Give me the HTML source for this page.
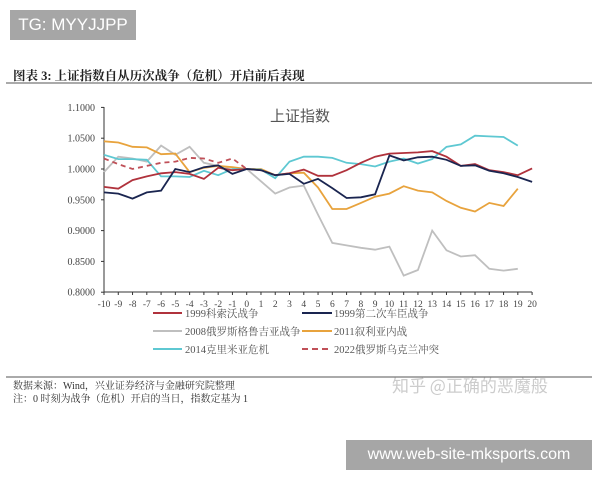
<!DOCTYPE html>
<html><head><meta charset="utf-8"><style>
body{margin:0;width:600px;height:480px;background:#fff;overflow:hidden;position:relative;font-family:"Liberation Serif","Noto Serif CJK SC",serif;}
.tg{position:absolute;left:10px;top:10px;width:126px;height:30px;background:#a6a6a6;color:#fff;font:17px "Liberation Sans",sans-serif;line-height:30px;text-align:center;}
.wm{position:absolute;left:346px;top:440px;width:246px;height:30px;background:#a6a6a6;color:#fff;font:16px "Liberation Sans",sans-serif;line-height:30px;text-align:center;}
</style></head><body>
<div class="tg">TG: MYYJJPP</div>
<svg width="600" height="480" style="position:absolute;left:0;top:0" id="s">
<text x="13" y="80" font-size="12.5" font-weight="bold" fill="#222" font-family="Liberation Serif,Noto Serif CJK SC,serif">图表 3:  上证指数自从历次战争（危机）开启前后表现</text>
<line x1="6" y1="83" x2="592" y2="83" stroke="#555" stroke-width="1"/>
<text x="300" y="121" font-size="15" fill="#555" text-anchor="middle" font-family="Noto Sans CJK SC,sans-serif">上证指数</text>
<g id="ax" font-size="10" fill="#444"></g>
<g id="ser" fill="none" stroke-width="1.8"></g>
<g font-size="10.5" fill="#555" font-family="Liberation Serif,Noto Serif CJK SC,serif">
<line x1="153" y1="313" x2="182" y2="313" stroke="#b0323c" stroke-width="2"/><text x="185" y="317">1999科索沃战争</text>
<line x1="302" y1="313" x2="332" y2="313" stroke="#1a2550" stroke-width="2"/><text x="334" y="317">1999第二次车臣战争</text>
<line x1="153" y1="331" x2="182" y2="331" stroke="#bfbfbf" stroke-width="2"/><text x="185" y="335">2008俄罗斯格鲁吉亚战争</text>
<line x1="302" y1="331" x2="332" y2="331" stroke="#e8a33d" stroke-width="2"/><text x="334" y="335">2011叙利亚内战</text>
<line x1="153" y1="349" x2="182" y2="349" stroke="#5ec8d2" stroke-width="2"/><text x="185" y="353">2014克里米亚危机</text>
<line x1="302" y1="349" x2="332" y2="349" stroke="#c05058" stroke-width="2" stroke-dasharray="6,4"/><text x="334" y="353">2022俄罗斯乌克兰冲突</text>
</g>
<line x1="6" y1="377" x2="592" y2="377" stroke="#555" stroke-width="1"/>
<g font-size="10" fill="#333" font-family="Liberation Serif,Noto Serif CJK SC,serif">
<text x="13" y="389">数据来源：Wind，兴业证券经济与金融研究院整理</text>
<text x="13" y="402">注：0 时刻为战争（危机）开启的当日，指数定基为 1</text>
</g>
<text x="392" y="392" font-size="17" fill="#ccc" font-family="Noto Sans CJK SC,sans-serif">知乎 @正确的恶魔般</text>
</svg>
<div class="wm">www.web-site-mksports.com</div>
<script>
var X=function(i){return 104+(i+10)*14.27},Y=function(v){return 169-(v-1)*616};
var ax=document.getElementById('ax'),h='';
h+='<line x1="104" y1="107" x2="104" y2="292" stroke="#333"/><line x1="104" y1="292" x2="532" y2="292" stroke="#333"/>';
for(var k=0;k<7;k++){var v=1.1-k*0.05,y=Y(v);h+='<line x1="101" y1="'+y+'" x2="104" y2="'+y+'" stroke="#333"/><text x="95" y="'+(y+3.5)+'" text-anchor="end">'+v.toFixed(4)+'</text>';}
for(var i=-10;i<=20;i++){var x=X(i);h+='<line x1="'+x+'" y1="292" x2="'+x+'" y2="295" stroke="#333"/><text x="'+x+'" y="307" text-anchor="middle" font-size="9.5">'+i+'</text>';}
ax.innerHTML=h;
var S=[
['#bfbfbf','',[0.995,1.02,1.017,1.012,1.038,1.023,1.036,1.01,1.005,0.999,1.0,0.98,0.96,0.97,0.973,0.926,0.88,0.876,0.872,0.869,0.874,0.827,0.836,0.9,0.868,0.858,0.86,0.838,0.835,0.838]],
['#e8a33d','',[1.045,1.043,1.036,1.035,1.024,1.025,0.995,1.002,1.005,1.003,1.0,1.0,0.99,0.993,0.994,0.97,0.935,0.935,0.945,0.955,0.96,0.972,0.965,0.962,0.948,0.937,0.931,0.945,0.94,0.968]],
['#5ec8d2','',[1.023,1.016,1.016,1.015,0.988,0.988,0.987,0.997,0.99,1.0,1.0,0.999,0.985,1.012,1.02,1.02,1.018,1.01,1.008,1.004,1.012,1.017,1.009,1.016,1.036,1.04,1.054,1.053,1.052,1.038]],
['#c05058','5,4',[1.017,1.008,1.0,1.005,1.01,1.012,1.018,1.017,1.01,1.017,1.0]],
['#b0323c','',[0.971,0.968,0.982,0.988,0.993,0.995,0.992,0.984,1.002,0.998,1.0,0.998,0.99,0.993,0.999,0.989,0.989,0.998,1.01,1.02,1.025,1.026,1.027,1.029,1.02,1.005,1.008,0.998,0.995,0.99,1.001]],
['#1a2550','',[0.962,0.96,0.952,0.962,0.965,1.0,0.995,1.003,1.006,0.992,1.0,0.998,0.99,0.992,0.976,0.984,0.969,0.953,0.954,0.959,1.022,1.014,1.019,1.02,1.015,1.005,1.006,0.997,0.993,0.987,0.979]]];
var g='';S.forEach(function(s){var p=s[2].map(function(v,i){return X(i-10).toFixed(1)+','+Y(v).toFixed(1)}).join(' ');g+='<polyline points="'+p+'" stroke="'+s[0]+'"'+(s[1]?' stroke-dasharray="'+s[1]+'"':'')+'/>';});
document.getElementById('ser').innerHTML=g;
</script>
</body></html>
